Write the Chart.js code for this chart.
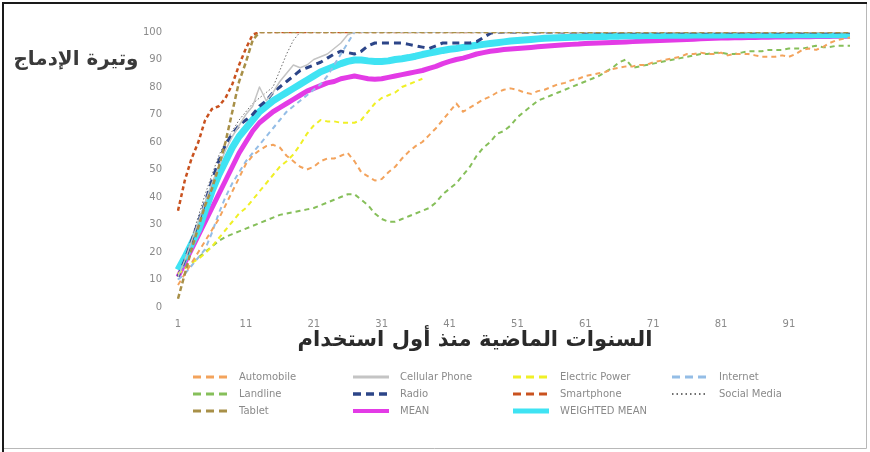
<!DOCTYPE html>
<html><head><meta charset="utf-8">
<script src="https://cdn.jsdelivr.net/npm/chart.js@4.4.1/dist/chart.umd.min.js"></script>
<style>html,body{margin:0;padding:0;background:#fff;}canvas{display:block;}</style>
</head><body>
<canvas id="c" width="870" height="452"></canvas>
<script>
const years = [1,2,3,4,5,6,7,8,9,10,11,12,13,14,15,16,17,18,19,20,21,22,23,24,25,26,27,28,29,30,31,32,33,34,35,36,37,38,39,40,41,42,43,44,45,46,47,48,49,50,51,52,53,54,55,56,57,58,59,60,61,62,63,64,65,66,67,68,69,70,71,72,73,74,75,76,77,78,79,80,81,82,83,84,85,86,87,88,89,90,91,92,93,94,95,96,97,98,99,100];
const yTickValues = [0,10,20,30,40,50,60,70,80,90,100];
const seriesNames = ['Automobile','Cellular Phone','Electric Power','Internet','Landline','Radio','Smartphone','Social Media','Tablet','MEAN','WEIGHTED MEAN'];
const yTitle = 'وتيرة الإدماج';
const xTitle = 'السنوات الماضية منذ أول استخدام';

const automobile = [8,12,16,20,24,28,32,37,42,47, 52,55,57,58.5,59,58,55,53,51,50, 51,53,54,54,55,56,53,49,47.5,46, 46.5,49,51,54,56.5,58.5,60,62.5,65,68, 71,74,71,72.5,74,75.5,76.5,78,79,79.5, 79,78,77.5,78.5,79,80,81,81.5,82.5,83, 84,84.5,85,85.5,86.5,87,87.5,87.5,88,88, 89,89.5,90,90.5,91,92,92,92.5,92,92, 92.5,91.5,92,92,92,91.5,91,91,91,91.5, 91,92,93.5,94,93.5,94.5,96,97,97.5,98];
const cellularPhone = [11,17,24,31,38,45,51,57,62,66, 70,73,80,75,78,82,85,88,87,88, 90,91,92,94,96,99,100,100,100,100, 100,100,100,100,100,100,100,100,100,100, 100,100,100,100,100,100,100,100,100,100, 100,100,100,100,100,100,100,100,100,100, 100,100,100,100,100,100,100,100,100,100, 100,100,100,100,100,100,100,100,100,100, 100,100,100,100,100,100,100,100,100,100, 100,100,100,100,100,100,100,100,100,100];
const electricPower = [12,14,16,17.5,19.5,22,25,28,31,34, 36,39,42,45,48,51,53,55.5,59,63, 66,68,67.5,67.5,67,67,67,68,71,74, 76,77,78,80,81,82,83];
const internet = [10,12,15,18,21,27,34,40,45,49, 53,56,59,62,65,68,71,73,75,77, 79,81,84,88,92,96,100,100,100,100, 100,100,100,100,100,100,100,100,100,100, 100,100,100,100,100,100,100,100,100,100, 100,100,100,100,100,100,100,100,100,100, 100,100,100,100,100,100,100,100,100,100, 100,100,100,100,100,100,100,100,100,100, 100,100,100,100,100,100,100,100,100,100, 100,100,100,100,100,100,100,100,100,100];
const landline = [12,14,16,18,20,22,24,25.5,26.5,27.5, 28.5,29.5,30.5,31.5,32.5,33.5,34,34.5,35,35.5, 36,37,38,39,40,41,41,39,37,34, 32,31,31,32,33,34,35,36,38,41, 43,45,48,51,55,58,60,63,64,66, 69,71,73,75,76,77,78,79,80,81, 82,83,84,85.5,87,89,90,87,87.5,88, 88.5,89,89.5,90,90.5,91,91.5,92,92,92.5, 92.5,92,92,92.5,93,93,93,93.5,93.5,93.5, 94,94,94,94.5,95,94.5,94.5,95,95,95];
const radio = [11,17,24,31,38,46,53,59,63,66, 68,70,73,75,78,80,82,84,86,87, 88,89,90.5,92,93,92.5,92,93,95,96, 96,96,96,96,95.5,95,94.5,94,95,96, 96,96,96,96,96.5,98,99.5,100,100,100, 100,100,100,100,100,100,100,100,100,100, 100,100,100,100,100,100,100,100,100,100, 100,100,100,100,100,100,100,100,100,100, 100,100,100,100,100,100,100,100,100,100, 100,100,100,100,100,100,100,100,100,100];
const smartphone = [35,46,54,60,68,72,73,76,81,88, 94,99,100,100,100,100,100,100,100,100, 100,100,100,100,100,100,100,100,100,100, 100,100,100,100,100,100,100,100,100,100, 100,100,100,100,100,100,100,100,100,100, 100,100,100,100,100,100,100,100,100,100, 100,100,100,100,100,100,100,100,100,100, 100,100,100,100,100,100,100,100,100,100, 100,100,100,100,100,100,100,100,100,100, 100,100,100,100,100,100,100,100,100,100];
const socialMedia = [10,17,25,33,41,48,55,60,64,68, 71,74,76,78,80,86,92,97,100,100, 100,100,100,100,100,100,100,100,100,100, 100,100,100,100,100,100,100,100,100,100, 100,100,100,100,100,100,100,100,100,100, 100,100,100,100,100,100,100,100,100,100, 100,100,100,100,100,100,100,100,100,100, 100,100,100,100,100,100,100,100,100,100, 100,100,100,100,100,100,100,100,100,100, 100,100,100,100,100,100,100,100,100,100];
const tablet = [3,12,21,29,37,43,51,60,71,82, 89,97,100,100,100,100,100,100,100,100, 100,100,100,100,100,100,100,100,100,100, 100,100,100,100,100,100,100,100,100,100, 100,100,100,100,100,100,100,100,100,100, 100,100,100,100,100,100,100,100,100,100, 100,100,100,100,100,100,100,100,100,100, 100,100,100,100,100,100,100,100,100,100, 100,100,100,100,100,100,100,100,100,100, 100,100,100,100,100,100,100,100,100,100];
const mean = [11,16,21,26,31,36,41,46,51,56, 60,64,67,69,71,72.5,74,75.5,77,78.5, 79.5,80.5,81.5,82,83,83.5,84,83.5,83,82.8, 83,83.5,84,84.5,85,85.5,86,86.8,87.5,88.5, 89.3,90,90.5,91.2,92,92.5,93,93.3,93.6,93.8, 94,94.2,94.4,94.6,94.8,95,95.2,95.4,95.5,95.6, 95.8,95.9,96,96.1,96.2,96.3,96.4,96.5,96.6,96.7, 96.8,96.9,97,97.1,97.2,97.3,97.4,97.5,97.6,97.7, 97.8,97.8,97.9,97.9,98,98,98.1,98.1,98.2,98.2, 98.2,98.3,98.3,98.3,98.4,98.4,98.4,98.5,98.5,98.5];
const weightedMean = [13.5,18,23,28,35,42,48,53,58,62, 65,68,71,73,75,76.5,78,79.5,81,82.5, 84,85.5,86.5,87.5,88.5,89.3,89.8,89.8,89.5,89.3, 89.3,89.5,90,90.3,90.7,91.2,91.8,92.3,92.8,93.3, 93.7,94,94.4,94.8,95.2,95.5,95.8,96.1,96.4,96.7, 96.9,97.1,97.3,97.5,97.7,97.8,97.9,98,98.1,98.2, 98.3,98.3,98.4,98.4,98.5,98.5,98.6,98.6,98.6,98.7, 98.7,98.7,98.8,98.8,98.8,98.8,98.9,98.9,98.9,98.9, 98.9,99,99,99,99,99,99,99,99,99, 99,99,99,99,99,99,99,99,99,99];

const seriesValues = [automobile, cellularPhone, electricPower, internet, landline, radio, smartphone, socialMedia, tablet, mean, weightedMean];
const styles = [
  {color:'#f3a35c', width:2, dash:[5,4], order:0, lw:3, ld:[8,5]},
  {color:'#c4c4c4', width:1.5, dash:[], order:0, lw:3, ld:[]},
  {color:'#f0f026', width:2, dash:[5,4], order:0, lw:3, ld:[8,5]},
  {color:'#94bde6', width:2, dash:[5,4], order:0, lw:3, ld:[8,5]},
  {color:'#86bf5a', width:2, dash:[5,4], order:0, lw:3, ld:[8,5]},
  {color:'#2c4588', width:3, dash:[7,5], order:0, lw:3.5, ld:[8,5]},
  {color:'#c9521f', width:2.5, dash:[4,3], order:0, lw:3, ld:[8,5]},
  {color:'#6e6e6e', width:1, dash:[1.5,2], order:0, lw:2, ld:[1.5,3]},
  {color:'#a89048', width:2.5, dash:[5,3], order:-1, lw:3, ld:[8,5]},
  {color:'#e33be6', width:5, dash:[], order:2, lw:4, ld:[]},
  {color:'#3fe3f3', width:7, dash:[], order:1, lw:5, ld:[]}
];

const datasets = seriesNames.map((name, i) => ({
  label: name,
  data: seriesValues[i],
  borderColor: styles[i].color,
  backgroundColor: styles[i].color,
  borderWidth: styles[i].width,
  borderDash: styles[i].dash,
  order: styles[i].order,
  pointRadius: 0,
  tension: 0,
  fill: false,
  borderCapStyle: 'butt',
  borderJoinStyle: 'round'
}));

function fitText(ctx, text, weight, family, targetW, cx, cy, color) {
  ctx.font = weight + ' 20px "' + family + '"';
  const w = ctx.measureText(text).width;
  const size = Math.min(22, 20 * targetW / w);
  ctx.font = weight + ' ' + size.toFixed(2) + 'px "' + family + '"';
  ctx.fillStyle = color;
  ctx.textAlign = 'center';
  ctx.textBaseline = 'middle';
  ctx.direction = 'rtl';
  ctx.fillText(text, cx, cy);
}

const decor = {
  id: 'decor',
  afterDraw(chart) {
    const ctx = chart.ctx;
    ctx.save();
    // frame
    ctx.strokeStyle = '#b8b8b8'; ctx.lineWidth = 1;
    ctx.beginPath(); ctx.moveTo(866.5, 3); ctx.lineTo(866.5, 448.5); ctx.lineTo(3, 448.5); ctx.stroke();
    ctx.strokeStyle = '#1a1a1a'; ctx.lineWidth = 2;
    ctx.beginPath(); ctx.moveTo(3, 452); ctx.lineTo(3, 3); ctx.lineTo(867, 3); ctx.stroke();
    // axis titles
    fitText(ctx, yTitle, 'bold', 'DejaVu Sans', 125, 76, 60, '#3a3a3a');
    fitText(ctx, xTitle, 'bold', 'DejaVu Sans', 355, 475, 341, '#2a2a2a');
    // legend
    const colX = [193, 353, 513, 672], txtX = [239, 400, 560, 719], rowY = [377, 394, 411];
    chart.data.datasets.forEach((ds, i) => {
      const c = i % 4, r = Math.floor(i / 4), st = styles[i];
      ctx.strokeStyle = ds.borderColor; ctx.lineWidth = st.lw; ctx.setLineDash(st.ld);
      ctx.lineCap = 'butt';
      ctx.beginPath(); ctx.moveTo(colX[c], rowY[r]); ctx.lineTo(colX[c] + 36, rowY[r]); ctx.stroke();
      ctx.setLineDash([]);
      ctx.fillStyle = '#8a8a8a'; ctx.font = '10px "DejaVu Sans"';
      ctx.textAlign = 'left'; ctx.textBaseline = 'middle'; ctx.direction = 'ltr';
      ctx.fillText(ds.label, txtX[c], rowY[r]);
    });
    ctx.restore();
  }
};

new Chart(document.getElementById('c'), {
  type: 'line',
  data: { labels: years, datasets: datasets },
  options: {
    responsive: false,
    animation: false,
    devicePixelRatio: 1,
    layout: { padding: { top: 32, right: 20, bottom: 0, left: 0 } },
    plugins: { legend: { display: false }, tooltip: { enabled: false }, title: { display: false } },
    elements: { point: { radius: 0 } },
    scales: {
      x: {
        type: 'category',
        grid: { display: false, drawTicks: false },
        border: { display: false },
        ticks: {
          autoSkip: false, maxRotation: 0, minRotation: 0, padding: 11,
          color: '#8a8a8a', font: { family: 'DejaVu Sans', size: 10 },
          callback: function(v, i) { return i % 10 === 0 ? String(years[i]) : ''; }
        },
        afterFit: function(s) { s.height = 145; }
      },
      y: {
        min: 0, max: 100,
        grid: { display: false, drawTicks: false },
        border: { display: false },
        ticks: {
          stepSize: 10, padding: 16, color: '#8a8a8a', font: { family: 'DejaVu Sans', size: 10 },
          callback: function(v) { return yTickValues.includes(v) ? String(v) : ''; }
        },
        afterFit: function(s) { s.width = 178; }
      }
    }
  },
  plugins: [decor]
});
</script>
</body></html>
